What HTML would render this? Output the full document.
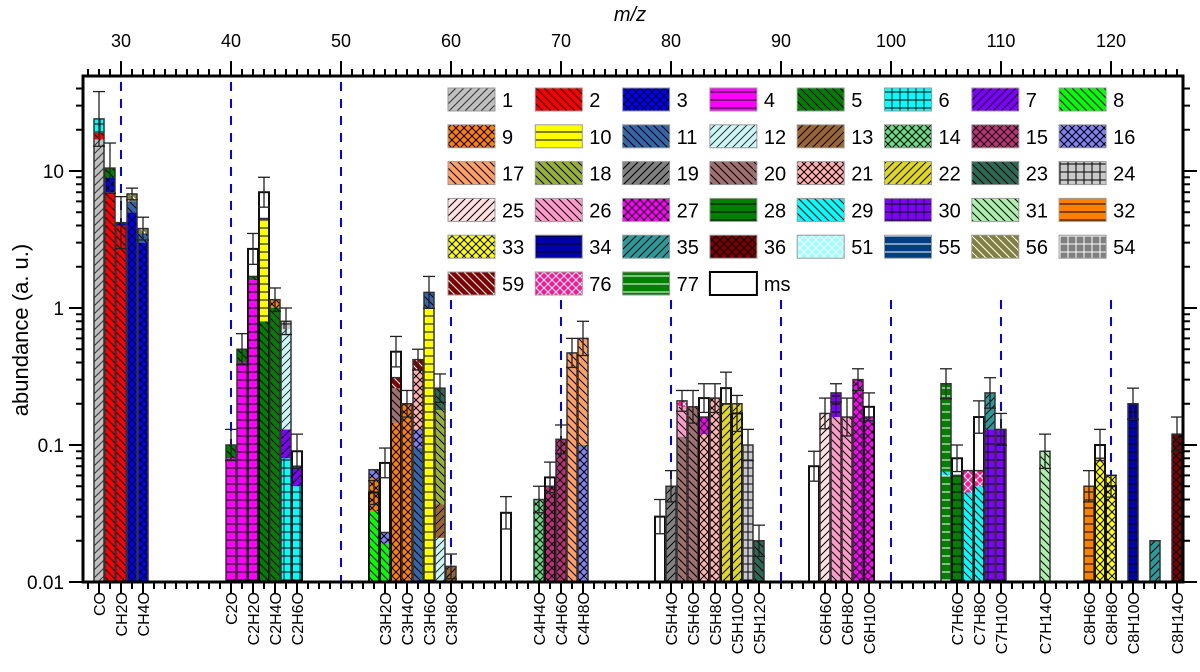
<!DOCTYPE html>
<html><head><meta charset="utf-8"><style>
html,body{margin:0;padding:0;background:#fff;}
svg{display:block;font-family:"Liberation Sans",Arial,sans-serif;}
</style></head><body>
<svg id="chart" width="1200" height="672" viewBox="0 0 1200 672" xmlns="http://www.w3.org/2000/svg">
<defs id="defs"></defs>
<g id="grid"></g><g id="bars"></g><g id="axes"></g><g id="legend"></g>
</svg>
<script>
// ---- data ----
const barMz = [28,29,30,31,32,40,41,42,43,44,45,46,53,54,55,56,57,58,59,60,65,68,69,70,71,72,79,80,81,82,83,84,85,86,87,88,93,94,95,96,97,98,105,106,107,108,109,110,114,118,119,120,122,124,126];
const barStacks = [
[[1,17],[2,19],[6,24]],[[2,7],[3,9],[5,10.5]],[[2,4],[3,4.2]],[[3,5],[11,6],[56,6.8]],[[3,3],[11,3.5],[56,3.8]],
[[4,0.08],[5,0.1]],[[4,0.4],[5,0.5]],[[4,1.6],[5,1.7]],[[5,0.8],[10,4.5]],[[5,1.0],[9,1.15]],[[6,0.08],[7,0.13],[12,0.7],[24,0.8]],[[6,0.05],[7,0.07]],
[[8,0.033],[9,0.057],[16,0.066]],[[8,0.019],[16,0.023]],[[9,0.145],[20,0.26],[59,0.31]],[[9,0.2]],[[11,0.095],[16,0.13],[21,0.35],[59,0.42]],[[10,1.0],[11,1.3]],[[12,0.021],[13,0.037],[18,0.18],[23,0.26]],[[13,0.013]],
[],[[14,0.04]],[[15,0.05]],[[15,0.11]],[[17,0.47]],[[16,0.1],[17,0.6]],
[],[[19,0.05]],[[20,0.115],[26,0.19],[76,0.21]],[[20,0.19]],[[21,0.12],[27,0.16]],[[21,0.22]],[[22,0.2]],[[22,0.2]],[[24,0.1]],[[23,0.02]],
[],[[25,0.17]],[[26,0.16],[30,0.24]],[[26,0.16]],[[27,0.3]],[[27,0.16]],
[[77,0.06],[29,0.064],[77,0.28]],[[28,0.06]],[[29,0.045],[76,0.065]],[[29,0.05],[76,0.065]],[[30,0.13],[35,0.24]],[[30,0.13]],[[31,0.09]],[[32,0.05]],[[33,0.08]],[[33,0.06]],[[34,0.2]],[[35,0.02]],[[36,0.12]]
];
const msVals = [null,null,null,null,null,null,null,2.7,7,null,null,0.09,0.045,0.074,0.48,null,null,null,null,null,0.032,null,0.058,null,null,null,0.03,null,null,null,0.22,null,0.26,0.17,null,null,0.07,null,null,null,null,0.19,null,0.08,null,0.16,null,null,null,null,0.1,0.05,null,null,null];
const errTops = [38,16,6.5,7.5,4.6,0.13,0.65,3.5,9,1.4,1.0,0.12,0.055,0.095,0.62,0.25,0.5,1.7,0.33,0.016,0.042,0.05,0.075,0.14,0.6,0.8,0.04,0.065,0.25,0.25,0.28,0.28,0.34,0.23,0.13,0.026,0.09,0.22,0.28,0.22,0.36,0.24,0.36,0.1,null,0.21,0.31,0.17,0.12,0.065,0.13,0.06,0.26,null,0.16];
const catLabels = ["CO","CH2O","CH4O","C2O","C2H2O","C2H4O","C2H6O","C3H2O","C3H4O","C3H6O","C3H8O","C4H4O","C4H6O","C4H8O","C5H4O","C5H6O","C5H8O","C5H10O","C5H12O","C6H6O","C6H8O","C6H10O","C7H6O","C7H8O","C7H10O","C7H14O","C8H6O","C8H8O","C8H10O","C8H14O"];
const catMz = [28,30,32,40,42,44,46,54,56,58,60,68,70,72,80,82,84,86,88,94,96,98,106,108,110,114,118,120,122,126];
const topTicks = [30,40,50,60,70,80,90,100,110,120];
const yTickVals = [0.01,0.1,1,10];
const yTickLabels = ["0.01","0.1","1","10"];
const dashMz = [30,40,50,60,70,80,90,100,110,120];
const legendOrder = [1,2,3,4,5,6,7,8,9,10,11,12,13,14,15,16,17,18,19,20,21,22,23,24,25,26,27,28,29,30,31,32,33,34,35,36,51,55,56,54,59,76,77,"ms"];
const speciesStyle = {
1:["#c0c0c0","f","#333"],2:["#ff0000","b","#000"],3:["#0000ff","x","#000"],4:["#ff00ff","h","#000"],5:["#007f00","b","#000"],6:["#00ffff","g","#000"],7:["#8000ff","f","#000"],8:["#00ff00","b","#000"],
9:["#ff8000","x","#000"],10:["#ffff00","h","#000"],11:["#3366aa","b","#000"],12:["#ccf5f5","f","#333"],13:["#996633","f","#000"],14:["#66dd88","x","#000"],15:["#c0307a","x","#000"],16:["#8080f0","x","#000"],
17:["#ffa060","b","#000"],18:["#99b030","b","#000"],19:["#808080","f","#000"],20:["#a07070","b","#000"],21:["#ffb0b0","x","#000"],22:["#e0d820","f","#000"],23:["#2a6a55","b","#000"],24:["#c8c8c8","g","#000"],
25:["#ffe0e0","f","#000"],26:["#ff99cc","b","#000"],27:["#ff00ff","x","#000"],28:["#007f00","h","#000"],29:["#00ffff","b","#000"],30:["#8000ff","g","#000"],31:["#aaf0aa","b","#000"],32:["#ff8000","h","#000"],
33:["#ffff00","x","#000"],34:["#0000aa","h","#000"],35:["#2a9a9a","f","#000"],36:["#800000","x","#000"],51:["#99ffff","x","#fff"],55:["#003f7f","h","#fff"],56:["#808040","b","#fff"],54:["#808080","g","#fff"],
59:["#800000","b","#fff"],76:["#ff1493","x","#fff"],77:["#007f00","h","#fff"]
};
// ---- scales ----
const NS="http://www.w3.org/2000/svg";
const X0=83,X1=1183,Y0=76,Y1=582;
function xS(m){return 121+(m-30)*11;}
function yS(v){return 582-(Math.log10(v)+2)*137;}
function mk(tag,attrs,parent){const e=document.createElementNS(NS,tag);for(const k in attrs)e.setAttribute(k,attrs[k]);parent.appendChild(e);return e;}
const defs=document.getElementById('defs');
for(const k in speciesStyle){
  const [c,p,l]=speciesStyle[k];
  const s=8;
  const pat=mk('pattern',{id:'p'+k,patternUnits:'userSpaceOnUse',width:s,height:s},defs);
  mk('rect',{x:0,y:0,width:s,height:s,fill:c},pat);
  const st={stroke:l,'stroke-width':1,fill:'none'};
  if(p==='f'||p==='x')mk('path',Object.assign({d:'M-1,9 L9,-1 M-1,1 L1,-1 M7,9 L9,7'},st),pat);
  if(p==='b'||p==='x')mk('path',Object.assign({d:'M-1,-1 L9,9 M7,-1 L9,1 M-1,7 L1,9'},st),pat);
  if(p==='h')mk('path',Object.assign({d:'M0,4 L8,4'},st),pat);
  if(p==='g')mk('path',Object.assign({d:'M0,4 L8,4 M4,0 L4,8'},st),pat);
}
const grid=document.getElementById('grid');
dashMz.forEach(m=>{
  const l=mk('line',{x1:xS(m),x2:xS(m),y1:m<60?82:300,y2:Y1,stroke:'#0000ff','stroke-width':2,'stroke-dasharray':'9,8'},grid);
  
  
});
const bars=document.getElementById('bars');
const BW=10;
barMz.forEach((m,i)=>{
  const g=mk('g',{},bars);
  
  
  const x=xS(m)-BW/2;
  let prev=0.01, top=0.01;
  barStacks[i].forEach(([sp,v])=>{
    const r=mk('rect',{x:x,y:yS(v),width:BW,height:yS(prev)-yS(v),fill:'url(#p'+sp+')'},g);
    
    
    prev=v; top=v;
  });
  if(barStacks[i].length){
    mk('rect',{x:x,y:yS(top),width:BW,height:Y1-yS(top),fill:'none',stroke:'#333','stroke-width':1.5},g);
  }
  let refTop=top;
  if(msVals[i]!=null){
    const r=mk('rect',{x:x,y:yS(msVals[i]),width:BW,height:Y1-yS(msVals[i]),fill:'none',stroke:'#111','stroke-width':2},g);
    
    
    refTop=msVals[i];
  }
  if(errTops[i]!=null){
    const lo=refTop*refTop/errTops[i];
    const xc=xS(m);
    mk('line',{x1:xc,x2:xc,y1:yS(errTops[i]),y2:yS(lo),stroke:'#222','stroke-width':1.3},g);
    mk('line',{x1:xc-6,x2:xc+6,y1:yS(errTops[i]),y2:yS(errTops[i]),stroke:'#222','stroke-width':1.3},g);
    mk('line',{x1:xc-6,x2:xc+6,y1:yS(lo),y2:yS(lo),stroke:'#222','stroke-width':1.3},g);
  }
});
const ax=document.getElementById('axes');
const frame=mk('rect',{x:X0,y:Y0,width:X1-X0,height:Y1-Y0,fill:'none',stroke:'#000','stroke-width':3},ax);


for(let m=27;m<=126;m++){
  const x=xS(m), major=topTicks.includes(m);
  mk('line',{x1:x,x2:x,y1:Y0,y2:Y0-(major?15:7),stroke:'#000','stroke-width':2},ax);
  const lab=catMz.includes(m);
  mk('line',{x1:x,x2:x,y1:Y1,y2:Y1+(lab?12:7),stroke:'#000','stroke-width':2},ax);
}
topTicks.forEach(m=>{
  const t=mk('text',{x:xS(m),y:47,'text-anchor':'middle','font-size':18},ax);
  t.textContent=m;
  
  
});
const tt=mk('text',{x:630,y:21,'text-anchor':'middle','font-size':20,'font-style':'italic'},ax);
tt.textContent='m/z';


for(let d=-2;d<=1;d++){
  for(let k=1;k<=9;k++){
    const v=k*Math.pow(10,d); const y=yS(v);
    if(y<Y0)continue;
    const L=k===1?14:7;
    mk('line',{x1:X0,x2:X0-L,y1:y,y2:y,stroke:'#000','stroke-width':2},ax);
    mk('line',{x1:X1,x2:X1+L,y1:y,y2:y,stroke:'#000','stroke-width':2},ax);
  }
}
yTickVals.forEach((v,i)=>{
  const t=mk('text',{x:64,y:yS(v)+7,'text-anchor':'end','font-size':19},ax);
  t.textContent=yTickLabels[i];
  
  
});
const yt=mk('text',{x:0,y:0,'text-anchor':'middle','font-size':22,transform:'translate(28,330) rotate(-90)'},ax);
yt.textContent='abundance (a. u.)';


catMz.forEach((m,i)=>{
  const t=mk('text',{x:0,y:0,'text-anchor':'end','font-size':16,transform:'translate('+(xS(m)+6)+',592) rotate(-90)'},ax);
  t.textContent=catLabels[i];
  
  
});
const lg=document.getElementById('legend');
legendOrder.forEach((sp,i)=>{
  const col=i%8,row=Math.floor(i/8);
  const x=448+col*87.3,y=88+row*36.8;
  const g=mk('g',{},lg);
  
  
  if(sp==='ms')mk('rect',{x:x,y:y,width:47,height:23,fill:'#fff',stroke:'#000','stroke-width':2},g);
  else mk('rect',{x:x,y:y,width:47,height:23,fill:'url(#p'+sp+')',stroke:'#999','stroke-width':1},g);
  const t=mk('text',{x:x+54,y:y+19,'font-size':20},g);
  t.textContent=sp;
});
</script>
</body></html>
